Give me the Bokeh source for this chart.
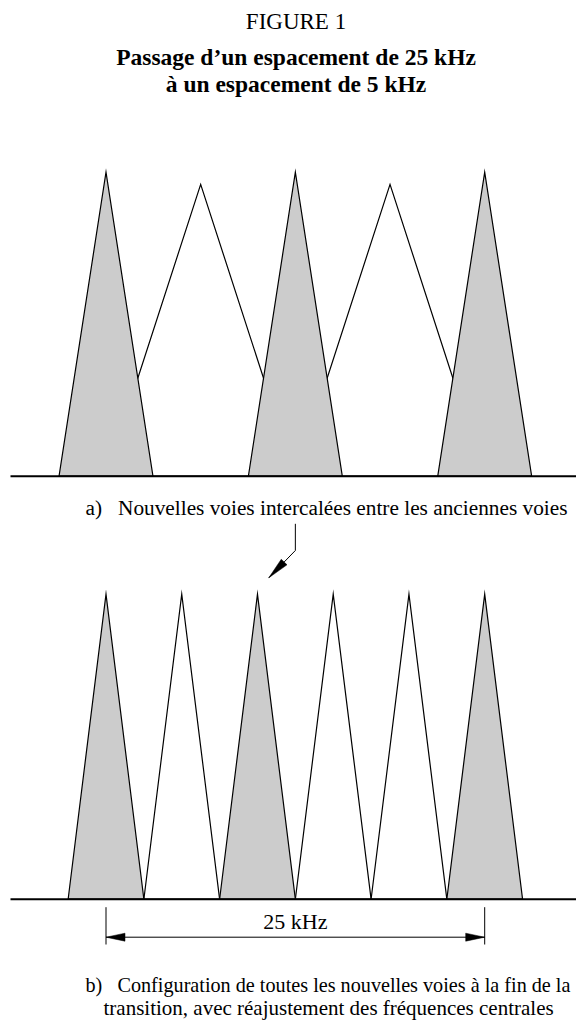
import math
from bokeh.plotting import figure
from bokeh.models import Range1d
from bokeh.core.properties import value
from bokeh.embed import file_html
from bokeh.resources import INLINE

# ---------------- data (kHz / relative amplitude) ----------------
a_old_centers = [0.0, 12.5, 25.0]      # existing channels (shaded)
a_old_halfwidth = 3.1
a_old_amp = 1.0
a_new_centers = [6.25, 18.75]          # new interleaved channels
a_new_halfwidth = 6.25
a_new_amp = 0.96

b_shaded_centers = [0.0, 10.0, 25.0]   # final plan, re-adjusted channels (shaded)
b_new_centers = [5.0, 15.0, 20.0]      # final plan, new channels
b_halfwidth = 2.5
b_amp = 1.0

dim_start, dim_end = 0.0, 25.0
dim_label = "25 kHz"

title_lines = ["FIGURE 1", "Passage d\u2019un espacement de 25 kHz", "\u00e0 un espacement de 5 kHz"]
caption_a = "a)\u00a0\u00a0\u00a0Nouvelles voies intercal\u00e9es entre les anciennes voies"
caption_b = ["b)\u00a0\u00a0\u00a0Configuration de toutes les nouvelles voies \u00e0 la fin de la",
             "transition, avec r\u00e9ajustement des fr\u00e9quences centrales"]

# ---------------- layout ----------------
W, H = 576, 1024
PX_PER_KHZ = 15.148
X0_PX = 105.5                      # pixel position of 0 kHz
x_start = -X0_PX / PX_PER_KHZ
x_end = x_start + W / PX_PER_KHZ
base_left = (10 - X0_PX) / PX_PER_KHZ
TXT_DY = -8                        # text baseline correction

def amp_range(base_px, px_per_amp):
    return Range1d(start=-(H - base_px) / px_per_amp, end=base_px / px_per_amp)

FONT = value("Liberation Serif")
GRAY = "#cccccc"

p = figure(width=W, height=H, x_range=Range1d(x_start, x_end), y_range=Range1d(H, 0),
           output_backend="svg", toolbar_location=None, min_border=0,
           x_axis_type=None, y_axis_type=None)
p.grid.visible = False
p.outline_line_color = None
p.background_fill_color = "white"
p.border_fill_color = "white"
p.extra_y_ranges = {"a": amp_range(475.7, 304.0), "b": amp_range(898.7, 305.0)}
p.extra_x_ranges = {"px": Range1d(0, W)}

def tri(centers, hw, amp):
    xs = [[c - hw, c, c + hw] for c in centers]
    ys = [[0, amp, 0] for _ in centers]
    return xs, ys

# ---- panel a ----
xs, ys = tri(a_new_centers, a_new_halfwidth, a_new_amp)
p.patches(xs, ys, y_range_name="a", fill_color="white", line_color="black", line_width=1.2, line_join="miter")
xs, ys = tri(a_old_centers, a_old_halfwidth, a_old_amp)
p.patches(xs, ys, y_range_name="a", fill_color=GRAY, line_color="black", line_width=1.2, line_join="miter")
p.segment(x0=[base_left], y0=[0], x1=[x_end + 1], y1=[0], y_range_name="a",
          line_color="black", line_width=2)

# ---- panel b ----
xs, ys = tri(b_new_centers, b_halfwidth, b_amp)
p.patches(xs, ys, y_range_name="b", fill_color="white", line_color="black", line_width=1.2, line_join="miter")
xs, ys = tri(b_shaded_centers, b_halfwidth, b_amp)
p.patches(xs, ys, y_range_name="b", fill_color=GRAY, line_color="black", line_width=1.2, line_join="miter")
p.segment(x0=[base_left], y0=[0], x1=[x_end + 1], y1=[0], y_range_name="b",
          line_color="black", line_width=2)

# ---- dimension line (x in kHz, y in px) ----
dim_y = 936.7
p.segment(x0=[dim_start, dim_end], y0=[906.7, 906.7], x1=[dim_start, dim_end], y1=[944.0, 944.0],
          line_color="black", line_width=1)
p.segment(x0=[dim_start], y0=[dim_y], x1=[dim_end], y1=[dim_y], line_color="black", line_width=1)
hl = 19 / PX_PER_KHZ
p.patches([[dim_start, dim_start + hl, dim_start + hl], [dim_end, dim_end - hl, dim_end - hl]],
          [[dim_y, dim_y - 4, dim_y + 4], [dim_y, dim_y - 4, dim_y + 4]],
          fill_color="black", line_color="black", line_width=0.5)
p.text(x=[(dim_start + dim_end) / 2], y=[929 + TXT_DY], text=[dim_label], text_font=FONT,
       text_font_size="22px", text_align="center", text_baseline="alphabetic", text_color="black")

# ---- pointer arrow (px coords) ----
ax = X0_PX + a_old_centers[1] * PX_PER_KHZ
ky, tx, ty = 550.0, 268.3, 577.3
p.line(x=[ax, ax, tx], y=[523.3, ky, ty], x_range_name="px", line_color="black", line_width=1)
dx, dy = tx - ax, ty - ky
L = math.hypot(dx, dy)
ux, uy = dx / L, dy / L
bx, by = tx - 22 * ux, ty - 22 * uy
nx, ny = -uy, ux
p.patch([tx, bx + 4 * nx, bx - 4 * nx], [ty, by + 4 * ny, by - 4 * ny], x_range_name="px",
        fill_color="black", line_color="black", line_width=0.5)

# ---- texts ----
p.text(x=[295.5], y=[28.5 + TXT_DY], text=[title_lines[0]], x_range_name="px", text_font=FONT,
       text_font_size="23px", text_align="center", text_baseline="alphabetic", text_color="black")
p.text(x=[295.5, 295.5], y=[64.5 + TXT_DY, 91 + TXT_DY], text=title_lines[1:], x_range_name="px",
       text_font=FONT, text_font_size="23.5px", text_font_style="bold", text_align="center",
       text_baseline="alphabetic", text_color="black")
p.text(x=[85], y=[515 + TXT_DY], text=[caption_a], x_range_name="px", text_font=FONT,
       text_font_size="21.3px", text_align="left", text_baseline="alphabetic", text_color="black")
p.text(x=[85], y=[992 + TXT_DY], text=[caption_b[0]], x_range_name="px", text_font=FONT,
       text_font_size="20.2px", text_align="left", text_baseline="alphabetic", text_color="black")
p.text(x=[103], y=[1015 + TXT_DY], text=[caption_b[1]], x_range_name="px", text_font=FONT,
       text_font_size="21px", text_align="left", text_baseline="alphabetic", text_color="black")

open("out.html", "w").write(file_html(p, INLINE))
